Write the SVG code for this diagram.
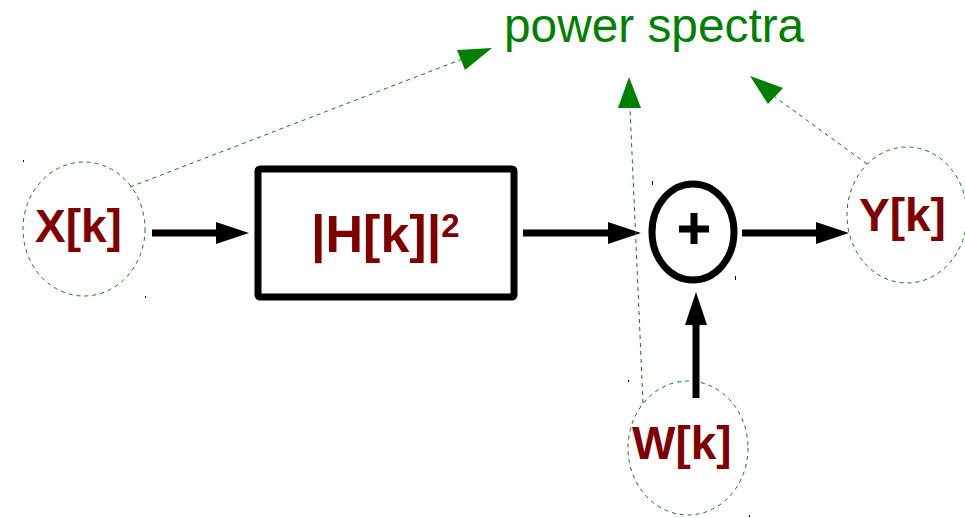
<svg xmlns="http://www.w3.org/2000/svg" width="965" height="518" viewBox="0 0 965 518">
<style>
.sig{fill:#800000;font-family:"Liberation Sans",Arial,sans-serif;font-weight:bold}
.halo{fill:none;stroke:#008000;stroke-width:1;stroke-dasharray:4 4}
.gl{fill:none;stroke:#008000;stroke-width:1;stroke-dasharray:4 4}
.gh{fill:#008000}
.bl{stroke:#000;stroke-width:7;fill:none}
.bh{fill:#000}
.tick{fill:#000}
</style>
<rect width="965" height="518" fill="#fff"/>
<g id="label-power-spectra">
<text x="504" y="42" font-family="Liberation Sans,Arial,sans-serif" font-size="47.8" fill="#008000">power spectra</text>
</g>
<g id="node-x">
<ellipse class="halo" cx="84" cy="229" rx="61" ry="67"/>
<text class="sig" x="35" y="242" font-size="46">X[k]</text>
</g>
<g id="node-h">
<rect x="258" y="169" width="256" height="128" rx="2" fill="#fff" stroke="#000" stroke-width="7"/>
<text class="sig" x="311" y="252" font-size="52">|H[k]|<tspan font-size="33" dy="-15">2</tspan></text>
</g>
<g id="node-sum">
<ellipse cx="693" cy="232" rx="41" ry="48" fill="#fff" stroke="#000" stroke-width="7"/>
<path d="M679 229H709M694 213V244" stroke="#000" stroke-width="7"/>
</g>
<g id="node-y">
<ellipse class="halo" cx="907" cy="215" rx="60" ry="68"/>
<text class="sig" x="859" y="231" font-size="46">Y[k]</text>
</g>
<g id="node-w">
<ellipse class="halo" cx="688" cy="448" rx="60" ry="67"/>
<text class="sig" x="632" y="459" font-size="46">W[k]</text>
</g>
<g id="connectors">
<line class="bl" x1="152" y1="233" x2="218" y2="233"/>
<polygon class="bh" points="249,233 216,222 216,244"/>
<line class="bl" x1="523" y1="233" x2="608" y2="233"/>
<polygon class="bh" points="641,233 608,222 608,244"/>
<line class="bl" x1="742" y1="233" x2="818" y2="233"/>
<polygon class="bh" points="849,233 816,222 816,244"/>
<line class="bl" x1="696" y1="398" x2="696" y2="322"/>
<polygon class="bh" points="696,292 685,325 707,325"/>
<line class="gl" x1="130" y1="187" x2="465" y2="58"/>
<polygon class="gh" points="492,48 457,50 465,70"/>
<line class="gl" x1="643" y1="403" x2="630" y2="108"/>
<polygon class="gh" points="629,77 618,108 641,108"/>
<line class="gl" x1="867" y1="164" x2="775" y2="97"/>
<polygon class="gh" points="750,76 768,104 783,88"/>
</g>
<g id="handles">
<rect class="tick" x="23" y="160" width="1" height="2"/>
<rect class="tick" x="145" y="296" width="1" height="2"/>
<rect class="tick" x="652" y="181" width="1" height="4"/>
<rect class="tick" x="735" y="276" width="1" height="4"/>
<rect class="tick" x="628" y="380" width="1" height="2"/>
<rect class="tick" x="749" y="515" width="1" height="2"/>
</g>
</svg>
